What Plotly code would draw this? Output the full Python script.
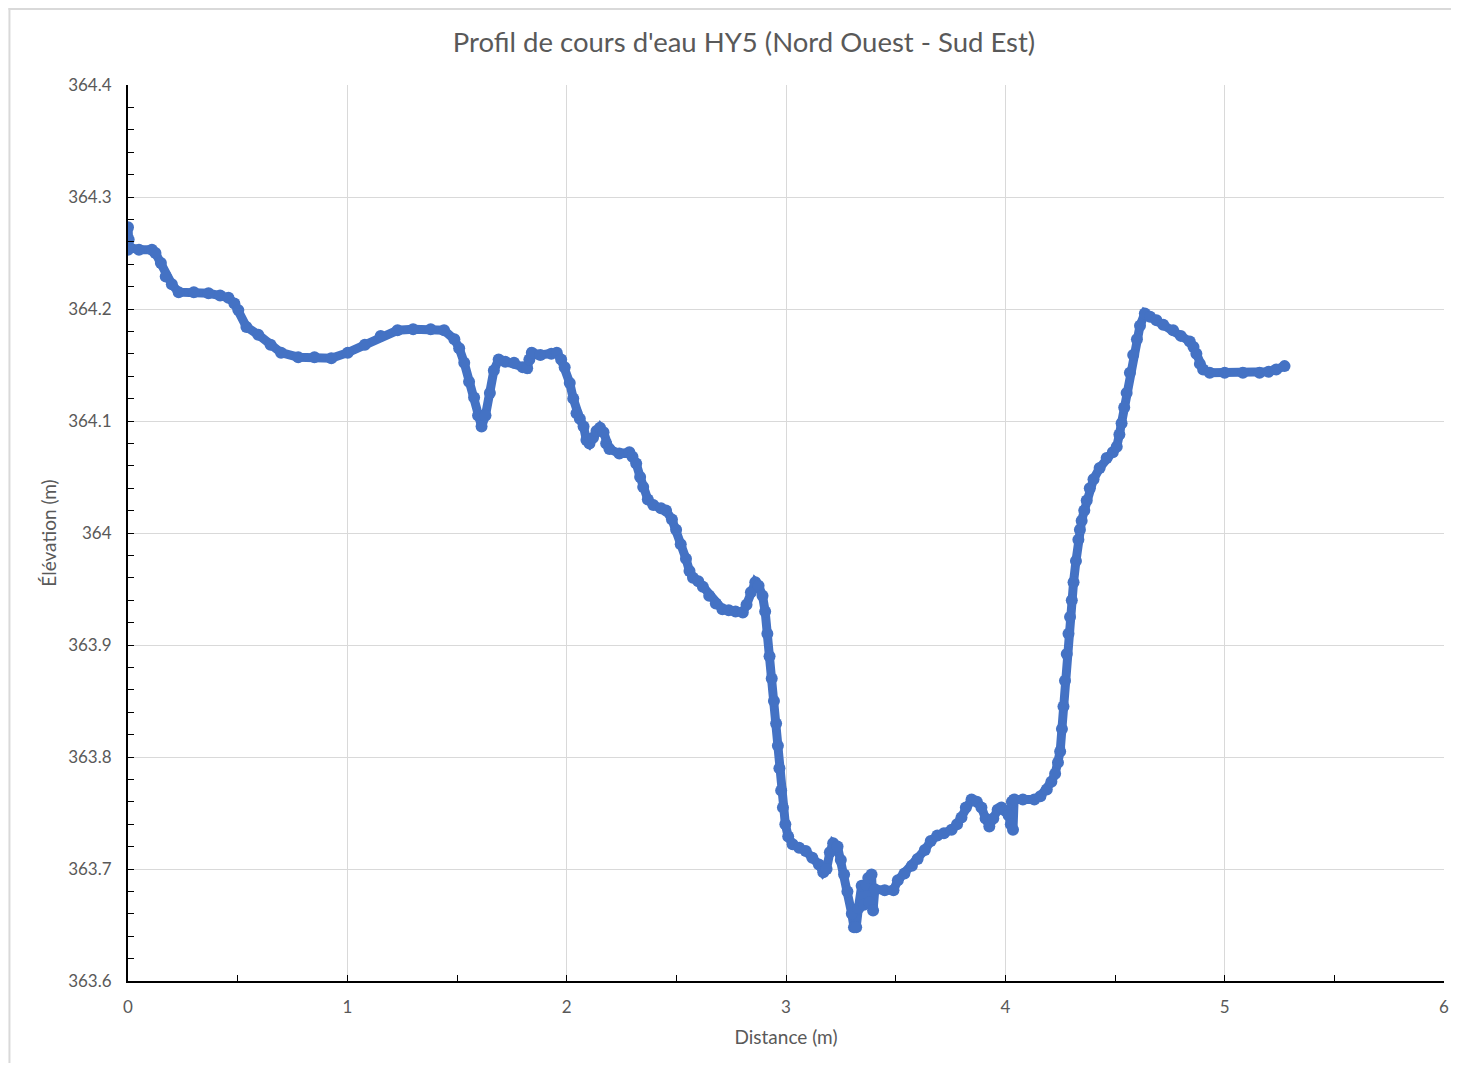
import plotly.graph_objects as go

distance = [0.0, 0.0, 0.003, 0.005, 0.05, 0.109, 0.125, 0.15, 0.172, 0.2, 0.231, 0.3, 0.367, 0.42, 0.458, 0.485, 0.503, 0.54, 0.594, 0.65,
            0.698, 0.776, 0.85, 0.927, 1.002, 1.08, 1.152, 1.229, 1.3, 1.38, 1.441, 1.488, 1.51, 1.533, 1.555, 1.578, 1.596, 1.612, 1.63, 1.65,
            1.668, 1.69, 1.72, 1.76, 1.8, 1.82, 1.83, 1.841, 1.88, 1.93, 1.955, 1.975, 1.991, 2.014, 2.03, 2.045, 2.06, 2.077, 2.09, 2.104,
            2.12, 2.136, 2.152, 2.168, 2.18, 2.195, 2.24, 2.286, 2.3, 2.317, 2.335, 2.349, 2.37, 2.395, 2.43, 2.453, 2.48, 2.499, 2.52, 2.544,
            2.56, 2.576, 2.6, 2.621, 2.65, 2.68, 2.71, 2.739, 2.77, 2.803, 2.82, 2.84, 2.86, 2.875, 2.893, 2.905, 2.915, 2.925, 2.935, 2.945,
            2.955, 2.963, 2.97, 2.978, 2.986, 2.997, 3.01, 3.03, 3.06, 3.09, 3.12, 3.15, 3.17, 3.185, 3.2, 3.215, 3.235, 3.25, 3.265, 3.28,
            3.3, 3.31, 3.32, 3.33, 3.345, 3.355, 3.365, 3.375, 3.38, 3.39, 3.397, 3.405, 3.45, 3.49, 3.51, 3.54, 3.574, 3.6, 3.633, 3.66,
            3.69, 3.72, 3.755, 3.78, 3.8, 3.82, 3.846, 3.87, 3.891, 3.91, 3.927, 3.945, 3.965, 3.982, 4.0, 4.015, 4.025, 4.03, 4.035, 4.04,
            4.08, 4.132, 4.16, 4.189, 4.21, 4.227, 4.24, 4.25, 4.258, 4.265, 4.272, 4.28, 4.288, 4.295, 4.303, 4.311, 4.322, 4.333, 4.34, 4.348,
            4.36, 4.371, 4.385, 4.402, 4.43, 4.462, 4.49, 4.508, 4.52, 4.53, 4.542, 4.553, 4.568, 4.583, 4.6, 4.614, 4.636, 4.66, 4.689, 4.72,
            4.765, 4.8, 4.841, 4.858, 4.871, 4.887, 4.902, 4.932, 5.0, 5.083, 5.159, 5.2, 5.235, 5.273]

elevation = [364.253, 364.273, 364.262, 364.255, 364.253, 364.253, 364.25, 364.241, 364.229, 364.222, 364.215, 364.215, 364.214, 364.212, 364.21, 364.205, 364.199, 364.184, 364.177, 364.168,
             364.161, 364.157, 364.157, 364.156, 364.161, 364.168, 364.176, 364.181, 364.182, 364.182, 364.181, 364.173, 364.165, 364.152, 364.135, 364.121, 364.105, 364.095, 364.105, 364.125,
             364.145, 364.155, 364.153, 364.152, 364.148, 364.147, 364.155, 364.161, 364.159, 364.16, 364.161, 364.155, 364.148, 364.134, 364.12, 364.107, 364.102, 364.095, 364.083, 364.08,
             364.085, 364.091, 364.094, 364.09, 364.08, 364.075, 364.071, 364.072, 364.068, 364.062, 364.05, 364.041, 364.03, 364.025, 364.022, 364.02, 364.012, 364.003, 363.99, 363.977,
             363.966, 363.96, 363.957, 363.952, 363.944, 363.937, 363.932, 363.931, 363.93, 363.929, 363.936, 363.947, 363.956, 363.953, 363.944, 363.93, 363.91, 363.89, 363.87, 363.85,
             363.83, 363.81, 363.79, 363.77, 363.755, 363.74, 363.729, 363.722, 363.719, 363.716, 363.71, 363.704, 363.697, 363.7, 363.715, 363.723, 363.72, 363.708, 363.695, 363.68,
             363.66, 363.648, 363.648, 363.665, 363.685, 363.668, 363.686, 363.692, 363.67, 363.695, 363.663, 363.682, 363.681, 363.681, 363.69, 363.696, 363.703, 363.709, 363.717, 363.725,
             363.73, 363.732, 363.735, 363.74, 363.746, 363.755, 363.762, 363.76, 363.755, 363.745, 363.738, 363.745, 363.753, 363.755, 363.752, 363.748, 363.74, 363.76, 363.735, 363.762,
             363.762, 363.762, 363.765, 363.771, 363.778, 363.785, 363.795, 363.805, 363.825, 363.845, 363.868, 363.892, 363.91, 363.925, 363.94, 363.956, 363.975, 363.994, 364.003, 364.011,
             364.02, 364.029, 364.04, 364.048, 364.058, 364.067, 364.072, 364.077, 364.088, 364.098, 364.112, 364.125, 364.143, 364.159, 364.173, 364.185, 364.196, 364.193, 364.19, 364.186,
             364.181, 364.176, 364.171, 364.166, 364.16, 364.151, 364.146, 364.143, 364.143, 364.143, 364.143, 364.144, 364.146, 364.149]

x_tick_vals = [0, 1, 2, 3, 4, 5, 6]
x_tick_text = ["0", "1", "2", "3", "4", "5", "6"]
y_tick_vals = [363.6, 363.7, 363.8, 363.9, 364.0, 364.1, 364.2, 364.3, 364.4]
y_tick_text = ["363.6", "363.7", "363.8", "363.9", "364", "364.1", "364.2", "364.3", "364.4"]

title_text = "Profil de cours d'eau HY5 (Nord Ouest - Sud Est)"
x_title = "Distance (m)"
y_title = "Élévation (m)"

BLUE = "#4472C4"
GRAY_TXT = "#595959"
FONT = "Lato, 'Open Sans', sans-serif"

# page has an 8px body margin on each side: figure is placed at (8, 8)
W, H = 1448, 1055
ML, MR, MT, MB = 120, 7, 77, 82

fig = go.Figure()
fig.add_trace(go.Scatter(
    x=distance, y=elevation, mode="lines+markers",
    line=dict(color=BLUE, width=9),
    marker=dict(color=BLUE, size=12, symbol="circle"),
    showlegend=False,
))

fig.update_layout(
    width=W, height=H, autosize=False,
    paper_bgcolor="white", plot_bgcolor="white",
    margin=dict(l=ML, r=MR, t=MT, b=MB, pad=0),
    title=dict(text=title_text, x=(744 - 8) / W, xanchor="center", y=1 - 34 / H, yanchor="middle",
               font=dict(family=FONT, size=27.5, color=GRAY_TXT)),
    font=dict(family=FONT, color=GRAY_TXT),
    xaxis=dict(range=[0, 6], tickvals=x_tick_vals, ticktext=x_tick_text,
               showgrid=True, gridcolor="#D9D9D9", gridwidth=1,
               showline=True, linecolor="black", linewidth=2,
               ticks="inside", ticklen=6, tickcolor="black", tickwidth=1,
               minor=dict(ticks="inside", dtick=0.5, ticklen=6, tickcolor="black", showgrid=False),
               zeroline=False, ticklabelstandoff=10,
               tickfont=dict(family=FONT, size=17, color=GRAY_TXT),
               title=dict(text=x_title, font=dict(family=FONT, size=19, color=GRAY_TXT), standoff=14)),
    yaxis=dict(range=[363.6, 364.4], tickvals=y_tick_vals, ticktext=y_tick_text,
               showgrid=True, gridcolor="#D9D9D9", gridwidth=1,
               showline=True, linecolor="black", linewidth=2,
               ticks="inside", ticklen=6, tickcolor="black", tickwidth=1,
               minor=dict(ticks="inside", dtick=0.02, tick0=363.6, ticklen=6, tickcolor="black", showgrid=False),
               zeroline=False, ticklabelstandoff=11,
               tickfont=dict(family=FONT, size=17, color=GRAY_TXT),
               title=dict(text=y_title, font=dict(family=FONT, size=19, color=GRAY_TXT), standoff=6)),
)

# chart-area border (top and left edges of the figure)
PW, PH = W - ML - MR, H - MT - MB
fig.add_shape(type="line", xref="paper", yref="paper",
              x0=-ML / PW, x1=1 + MR / PW, y0=1 + (MT - 1) / PH, y1=1 + (MT - 1) / PH,
              line=dict(color="#D9D9D9", width=2))
fig.add_shape(type="line", xref="paper", yref="paper",
              x0=-(ML - 1) / PW, x1=-(ML - 1) / PW, y0=-MB / PH, y1=1 + MT / PH,
              line=dict(color="#D9D9D9", width=2))

fig.write_html("out.html")
